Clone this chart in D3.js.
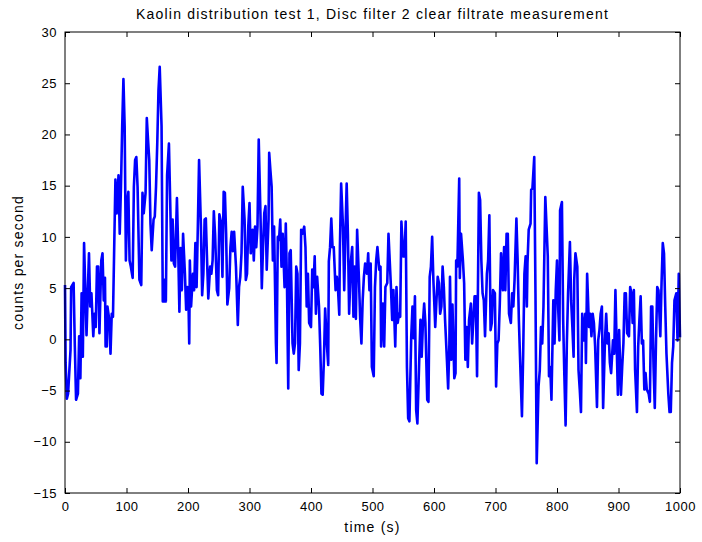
<!DOCTYPE html>
<html>
<head>
<meta charset="utf-8">
<script src="https://cdn.jsdelivr.net/npm/d3@7"></script>
<style>
  body { margin: 0; background: #fff; }
  svg { display: block; font-family: "Liberation Sans", Arial, sans-serif; }
</style>
</head>
<body>
<svg id="chart" width="702" height="542"></svg>
<script>
// values (time in s, counts per second)
const times = [0,1,3,5,9,10,14,16,18,21,23,25,27,29,31,35,37,39,41,43,46,48,50,52,54,56,59,61,63,65,66,68,69,72,74,76,78,81,82,84,87,89,91,93,95,97,99,101,103,105,107,110,112,114,116,118,121,124,
  126,128,131,133,135,137,139,141,144,146,148,150,152,154,157,159,161,162,164,166,169,171,173,175,177,179,182,184,186,188,190,192,195,197,199,201,202,203,205,208,210,212,214,216,218,221,223,225,227,229,231,233,236,238,240,242,244,247,249,
  251,254,256,258,260,262,264,267,269,271,273,275,278,281,283,285,287,289,292,294,296,298,300,302,305,307,309,311,313,315,318,320,322,324,326,328,331,332,334,336,338,340,343,344,346,348,350,352,354,357,359,361,363,365,367,370,372,374,
  376,378,380,382,384,386,389,391,393,395,397,400,402,404,406,408,410,413,415,417,419,421,423,426,428,429,431,433,435,437,440,442,444,446,447,449,452,454,456,458,460,462,465,467,469,471,473,475,478,480,482,484,486,488,491,493,495,497,499,
  502,504,506,508,511,513,514,517,519,521,524,526,528,530,532,534,537,539,541,543,545,547,550,552,554,556,558,560,563,565,567,569,571,573,576,578,580,582,584,586,589,591,593,595,597,599,602,604,606,608,610,612,614,616,618,621,623,
  625,626,628,630,633,635,636,638,641,642,644,647,649,651,653,655,657,660,662,664,666,668,670,673,675,677,679,681,683,686,688,690,692,694,696,699,701,703,705,707,709,712,714,716,718,720,722,725,727,729,731,734,736,738,740,743,745,747,749,751,
  752,754,757,758,760,763,765,767,770,772,774,776,778,781,783,785,787,789,791,794,796,798,800,802,804,805,808,810,812,814,816,818,821,823,825,827,828,830,833,835,837,839,841,843,846,847,849,852,854,856,858,860,862,865,867,869,871,873,875,
  878,880,882,884,886,888,891,893,895,897,899,901,904,906,908,910,912,914,917,919,921,923,925,927,930,932,934,936,938,940,942,944,946,949,951,953,955,957,959,961,963,965,968,970,972,974,976,978,981,983,985,987,989,991,994,996,998,1000];

const counts = [5.3,-2.3,-5.8,-5.3,-1,5.1,5.5,-0.7,-5.9,-5.3,0.3,-3.8,4.5,-1.7,9.4,0.4,4.5,8.4,3.2,4.5,0.3,2.5,1.2,7.1,7.1,0.6,7.7,8.4,3.8,6,-0.7,-0.7,3.2,1.9,-1.4,2.5,2.2,12.3,15.6,12.3,16,10.3,14.9,20.8,25.4,20.8,7.7,13.3,14.4,7.7,7.1,6,14.9,17.5,17.8,14.9,5.8,5.3,
  14.3,12.3,14.3,21.6,19.5,17.5,11.3,8.7,11.7,12,14.9,19.1,24.3,26.6,20.8,3.7,3.7,5.8,3.7,16,19.1,13.6,7.7,11.7,7.4,7.1,13.8,9,2.7,8.9,4.8,10.3,6.4,2.9,5.1,3,-0.4,7.7,3.2,6.4,4.8,9.4,5.1,11,17.5,11,4.3,6.4,11.7,11.8,7.7,4,7.1,6.4,7.7,12.5,10.3,4.8,4.3,
  12.2,11.3,6.1,14.4,14.3,10.3,3.4,5,9,10.5,8.6,10.5,7.1,1.4,5.1,6.1,8.4,14.9,11.7,5.8,6.4,11,13.3,8.4,10.7,7.7,11,9,11,19.5,11.7,5,9,12.3,13,6.8,11.7,18.2,16.5,14.9,7.7,11,-0.4,-2.3,10,9.7,11.7,7.1,10.3,5.1,11.3,5.1,-4.8,8.4,8.7,-0.4,-1.4,-0.4,
  7.1,6.4,-3,-0.4,10.7,10.3,11,9,3.2,6.4,1.6,1.2,6.8,5.1,8.1,2.5,6.1,3.2,-0.7,-5.3,-5.4,-2,3,-0.7,-2.5,7.6,9,11.8,9,9,4.8,6.1,4.8,2.4,9,15.2,11,4.8,10.3,15.2,10.3,2.5,7.7,9,2.2,7.1,2,10.7,5.8,1.9,-0.4,3.8,6.1,7.4,6.4,8.4,4.8,7.4,-2.7,
  -3.6,5.1,7.7,9,6.8,7.1,-0.7,3.5,-0.7,5.1,5.5,10.3,7.7,5.1,1.9,4.8,-0.7,5.1,1.6,2.5,2.2,11.5,8.1,8.1,11.5,-2.7,-7.7,-8,0.3,3.2,0.1,4.2,-6.9,-8.2,-2,1.9,-1.7,1.6,3.5,1.6,-5.9,-6.1,6.1,7.1,10,5.8,1.2,3.8,6.1,5.5,2.5,3.2,7.1,5.1,1.9,-2,-4.8,
  -0.5,6.1,-2,3.4,-3.8,-3.3,7.7,7.1,15.7,6,10.3,7.7,5.5,-2,1.2,-2.7,1.9,3.5,-0.4,1.9,4.2,4.2,-3.6,14.3,13.6,7.7,4.5,3.8,0.3,6.4,7.7,12.1,0.9,1.6,4.8,4.5,-4.6,-0.4,-0.1,3.5,8.4,4.8,9,4.8,10.3,10.3,2.5,1.6,4.5,3.2,5.8,11.8,7.7,1.9,-2,-7.5,-1.4,6.4,8.1,3.2,
  7.4,10.7,11.3,14.6,14.7,17.8,4.5,-12.1,-4.6,-3,1.2,-0.4,3.2,13.9,11,8.1,-3.6,-2.7,-5.9,3.8,-0.4,4.8,7.7,2.9,-0.1,12.6,13.4,1.9,-3.6,-8.4,-0.4,4.5,9.5,3.8,1.2,-1.7,5.8,8.4,7.1,-3,-4.9,-7.1,2.5,-0.1,2.5,-2.3,6.4,1.2,2.5,0.3,2.5,1.6,-0.7,-6.6,-0.1,0.9,2.5,3.2,-6.7,
  -0.1,2.5,-0.4,0.6,-2.3,-3.3,-0.1,-1.4,4.8,-0.4,-5.4,0.9,-5.4,-2.7,-0.4,4.5,4.5,0.6,0.3,5.1,4.5,1.6,4.8,-3,-7.1,-0.7,1.9,4.2,-0.4,-0.1,-4.9,-3.3,-4.9,-5.3,-6.1,3.2,3.2,-2.7,-6.7,-0.1,5.1,4.8,0.3,5.5,9.4,8.4,3.2,-1.4,-5.3,-7.1,-7.1,-2.3,-0.7,3.8,4.5,-0.1,6.4,0.2];

const xTicks = [0,100,200,300,400,500,600,700,800,900,1000];
const yTicks = [-15,-10,-5,0,5,10,15,20,25,30];

const titleText = "Kaolin distribution test 1, Disc filter 2 clear filtrate measurement";
const xLabel = "time (s)";
const yLabel = "counts per second";

const width = 702, height = 542;
const margin = { top: 32, right: 22, bottom: 49, left: 65 };

const svg = d3.select("#chart");

const x = d3.scaleLinear()
  .domain([0, 1000])
  .range([margin.left, width - margin.right]);

const y = d3.scaleLinear()
  .domain([-15, 30])
  .range([height - margin.bottom, margin.top]);

const data = times.map((t, i) => ({ t: t, v: counts[i] }));

// data line
const line = d3.line()
  .x(d => x(d.t))
  .y(d => y(d.v));

svg.append("path")
  .datum(data)
  .attr("fill", "none")
  .attr("stroke", "#0000ff")
  .attr("stroke-width", 2.6)
  .attr("stroke-linejoin", "round")
  .attr("d", line);

// axes, MATLAB style ticks pointing inward on all four sides
const tickStyle = g => {
  g.select(".domain").remove();
  g.selectAll(".tick line").attr("stroke", "#000");
  g.selectAll(".tick text")
    .attr("fill", "#000")
    .style("font-size", "13px")
    .style("letter-spacing", "0.5px");
};

svg.append("g")
  .attr("transform", `translate(0,${height - margin.bottom})`)
  .call(d3.axisBottom(x).tickValues(xTicks).tickFormat(d3.format("d")).tickSizeInner(-5).tickSizeOuter(0).tickPadding(9))
  .call(tickStyle);

svg.append("g")
  .attr("transform", `translate(0,${margin.top})`)
  .call(d3.axisTop(x).tickValues(xTicks).tickSizeInner(-5).tickSizeOuter(0).tickFormat(""))
  .call(tickStyle);

svg.append("g")
  .attr("transform", `translate(${margin.left},0)`)
  .call(d3.axisLeft(y).tickValues(yTicks).tickFormat(d3.format("d")).tickSizeInner(-5).tickSizeOuter(0).tickPadding(8))
  .call(tickStyle);

svg.append("g")
  .attr("transform", `translate(${width - margin.right},0)`)
  .call(d3.axisRight(y).tickValues(yTicks).tickSizeInner(-5).tickSizeOuter(0).tickFormat(""))
  .call(tickStyle);

// box
svg.append("rect")
  .attr("x", margin.left)
  .attr("y", margin.top)
  .attr("width", width - margin.left - margin.right)
  .attr("height", height - margin.top - margin.bottom)
  .attr("fill", "none")
  .attr("stroke", "#000")
  .attr("stroke-width", 1);

// labels
const labelStyle = sel => sel
  .attr("text-anchor", "middle")
  .style("font-size", "14px")
  .style("letter-spacing", "1.2px");

svg.append("text")
  .attr("x", (margin.left + width - margin.right) / 2)
  .attr("y", 19)
  .call(labelStyle)
  .text(titleText);

svg.append("text")
  .attr("x", (margin.left + width - margin.right) / 2)
  .attr("y", 532)
  .call(labelStyle)
  .text(xLabel);

svg.append("text")
  .attr("transform", `translate(23,${(margin.top + height - margin.bottom) / 2}) rotate(-90)`)
  .call(labelStyle)
  .text(yLabel);
</script>
</body>
</html>
